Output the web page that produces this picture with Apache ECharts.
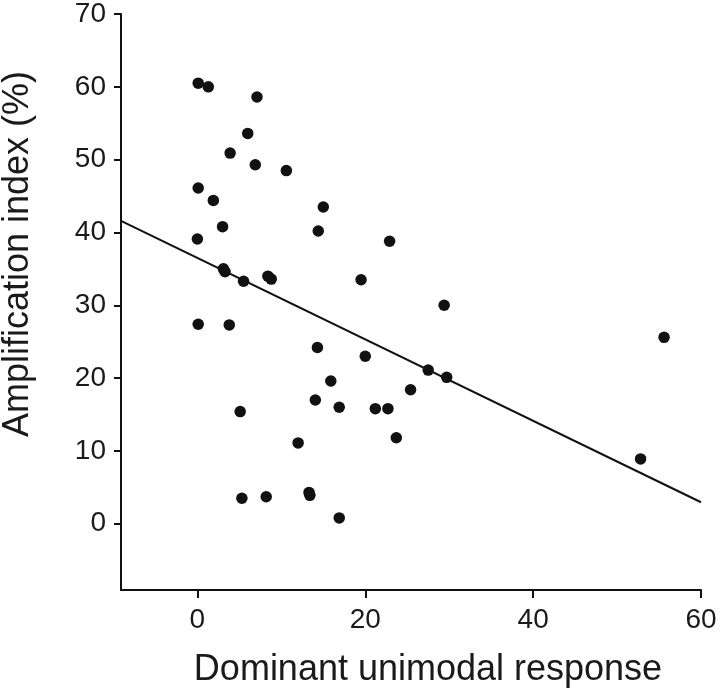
<!DOCTYPE html>
<html>
<head>
<meta charset="utf-8">
<script src="https://cdn.jsdelivr.net/npm/echarts@6/dist/echarts.min.js"></script>
<style>
html,body{margin:0;padding:0;background:#fff;}
#chart{width:720px;height:691px;}
</style>
</head>
<body>
<div id="chart"></div>
<script>
// Dominant unimodal response (x) vs Amplification index % (y)
const pointsX = [0.1, 1.3, 7.1, 6.0, 3.9, 6.9, 10.6, 0.1, 1.9, 3.0, 0.0, 3.1, 3.3, 5.5, 8.4, 8.8,
  0.1, 3.8, 5.1, 12.0, 5.3, 8.2, 13.3, 13.4, 15.0, 14.4, 22.9, 19.5, 29.4, 14.3, 20.0, 27.5,
  29.7, 15.9, 25.4, 14.05, 16.9, 21.2, 22.7, 23.7, 16.9, 55.6, 52.8];
const pointsY = [60.5, 60.0, 58.6, 53.6, 50.9, 49.3, 48.5, 46.1, 44.4, 40.8, 39.1, 35.0, 34.6, 33.3, 34.0, 33.6,
  27.4, 27.3, 15.4, 11.1, 3.5, 3.7, 4.3, 3.9, 43.5, 40.2, 38.8, 33.5, 30.0, 24.2, 23.0, 21.1,
  20.1, 19.6, 18.4, 17.0, 16.0, 15.8, 15.8, 11.8, 0.8, 25.6, 8.9];
const fitX = [-9.1, 60];
const fitY = [41.6, 2.95];
const xTicks = [0, 20, 40, 60];
const yTicks = [0, 10, 20, 30, 40, 50, 60, 70];
const xTitle = 'Dominant unimodal response';
const yTitle = 'Amplification index (%)';

const FONT = '"Liberation Sans", Arial, Helvetica, sans-serif';
const chart = echarts.init(document.getElementById('chart'));
const axisCommon = {
  axisLine: {show: true, onZero: false, lineStyle: {color: '#111', width: 2}},
  splitLine: {show: false},
};
chart.setOption({
  animation: false,
  backgroundColor: '#fff',
  grid: {left: 121, right: 19, top: 10, bottom: 101, containLabel: false},
  xAxis: Object.assign({
    type: 'value', min: -9.1, max: 60,
    axisTick: {show: true, length: 8, inside: false, customValues: xTicks, lineStyle: {color: '#111', width: 2}},
    axisLabel: {customValues: xTicks, margin: 16, fontSize: 28, fontFamily: FONT, color: '#1a1a1a'}
  }, axisCommon),
  yAxis: Object.assign({
    type: 'value', min: -9.1, max: 70,
    axisTick: {show: true, length: 7, inside: false, customValues: yTicks, lineStyle: {color: '#111', width: 2}},
    axisLabel: {customValues: yTicks, margin: 15, fontSize: 28, fontFamily: FONT, color: '#1a1a1a'}
  }, axisCommon),
  graphic: [
    {type: 'text', x: 428, y: 670, style: {text: xTitle, font: '36px ' + FONT, fill: '#1a1a1a', align: 'center', verticalAlign: 'middle'}},
    {type: 'text', x: 18, y: 254, rotation: Math.PI / 2, style: {text: yTitle, font: '36px ' + FONT, fill: '#1a1a1a', align: 'center', verticalAlign: 'middle'}}
  ],
  series: [
    {
      type: 'line',
      data: fitX.map((x, i) => [x, fitY[i]]),
      symbol: 'none',
      lineStyle: {color: '#111', width: 2},
      z: 1
    },
    {
      type: 'scatter',
      data: pointsX.map((x, i) => [x, pointsY[i]]),
      symbol: 'circle',
      symbolSize: 11.5,
      itemStyle: {color: '#111', opacity: 1},
      z: 2
    }
  ]
});
</script>
</body>
</html>
